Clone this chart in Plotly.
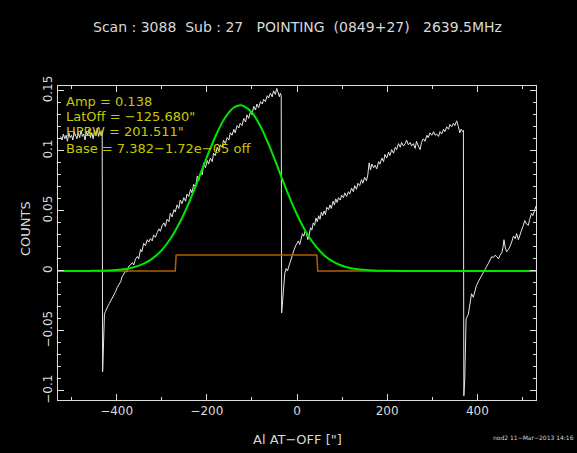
import numpy as np
import plotly.graph_objects as go

# ---------------- data ----------------
title_text = "Scan : 3088\u00a0\u00a0Sub : 27\u00a0\u00a0\u00a0POINTING\u00a0\u00a0(0849+27)\u00a0\u00a0\u00a02639.5MHz"
fit_labels = ["Amp = 0.138", "LatOff = \u2212125.680\"", "HPBW = 201.511\"", "Base = 7.382\u22121.72e\u221205 off"]
x_title = "Al AT\u2212OFF [\"]"
y_title = "COUNTS"
footer = "nod2 11\u2212Mar\u22122013 14:16"

x_tick_vals = [-400, -200, 0, 200, 400]
x_tick_text = ["\u2212400", "\u2212200", "0", "200", "400"]
y_tick_vals = [-0.1, -0.05, 0, 0.05, 0.1, 0.15]
y_tick_text = ["\u22120.1", "\u22120.05", "0", "0.05", "0.1", "0.15"]

scan_x = [-524, -521, -518, -515, -512, -509, -506, -503, -500, -497, -494, -491, -488, -485, -482, -479,
          -476, -473, -470, -467, -464, -461, -458, -455, -452, -449, -446, -443, -440, -437, -434, -432,
          -431, -429, -427, -425, -422, -419, -416, -413, -410, -406, -402, -399, -395, -391, -388, -384,
          -380, -377, -373, -369, -365, -362, -358, -354, -351, -347, -344, -340, -336, -332, -329, -325,
          -321, -318, -314, -310, -306, -303, -299, -295, -292, -288, -284, -281, -277, -273, -270, -266,
          -262, -259, -255, -251, -247, -244, -240, -236, -233, -229, -225, -221, -218, -214, -210, -207,
          -203, -199, -196, -192, -188, -185, -181, -177, -174, -170, -166, -163, -159, -155, -151, -148,
          -144, -140, -137, -133, -129, -126, -122, -118, -114, -111, -107, -103, -100, -96, -92, -89,
          -85, -81, -77, -74, -70, -66, -63, -59, -55, -52, -48, -45, -42, -39, -37, -35,
          -34, -31, -29, -27, -24, -21, -18, -15, -12, -9, -6, -3, 0, 3, 6, 9,
          12, 15, 18, 21, 24, 27, 30, 33, 36, 39, 42, 45, 48, 51, 54, 57,
          60, 63, 66, 70, 73, 76, 80, 83, 86, 89, 92, 96, 99, 103, 106, 110,
          114, 117, 121, 125, 128, 132, 135, 139, 143, 146, 150, 154, 157, 160, 163, 166,
          170, 173, 177, 181, 184, 188, 192, 195, 199, 203, 206, 210, 214, 218, 221, 225,
          229, 232, 236, 240, 243, 247, 251, 254, 258, 262, 265, 269, 273, 276, 280, 284,
          288, 291, 295, 299, 303, 306, 310, 314, 317, 321, 325, 328, 332, 336, 339, 343,
          347, 350, 354, 358, 361, 364, 367, 369, 370, 372, 375, 380, 384, 387, 391, 395,
          398, 402, 406, 410, 413, 417, 421, 424, 428, 432, 435, 439, 443, 447, 450, 454,
          457, 459, 462, 465, 469, 472, 476, 480, 484, 487, 491, 494, 498, 502, 505, 509,
          513, 516, 520, 523, 527, 530]
scan_y = [0.112, 0.109, 0.114, 0.110, 0.113, 0.108, 0.115, 0.111, 0.113, 0.109, 0.116, 0.112, 0.110, 0.115, 0.111, 0.117,
          0.112, 0.114, 0.109, 0.116, 0.113, 0.118, 0.111, 0.115, 0.110, 0.117, 0.113, 0.119, 0.112, 0.116, 0.114, 0.117,
          -0.084, -0.060, -0.036, -0.034, -0.031, -0.029, -0.027, -0.025, -0.023, -0.020, -0.017, -0.014, -0.012, -0.009, -0.005, -0.003,
          0.000, -0.001, 0.004, 0.005, 0.007, 0.005, 0.010, 0.012, 0.010, 0.018, 0.016, 0.023, 0.021, 0.026, 0.024, 0.027,
          0.025, 0.030, 0.028, 0.032, 0.035, 0.033, 0.038, 0.040, 0.037, 0.043, 0.041, 0.048, 0.045, 0.051, 0.049, 0.055,
          0.052, 0.059, 0.056, 0.061, 0.058, 0.064, 0.062, 0.068, 0.065, 0.072, 0.070, 0.079, 0.075, 0.082, 0.080, 0.090,
          0.086, 0.092, 0.089, 0.094, 0.091, 0.098, 0.096, 0.103, 0.100, 0.105, 0.103, 0.109, 0.106, 0.111, 0.109, 0.115,
          0.113, 0.118, 0.115, 0.121, 0.119, 0.123, 0.121, 0.127, 0.124, 0.130, 0.127, 0.133, 0.130, 0.137, 0.134, 0.139,
          0.136, 0.141, 0.139, 0.143, 0.141, 0.146, 0.144, 0.148, 0.145, 0.150, 0.147, 0.152, 0.149, 0.145, 0.148, 0.146,
          -0.035, -0.020, -0.005, -0.002, 0.002, 0.000, 0.004, 0.008, 0.011, 0.015, 0.018, 0.021, 0.023, 0.025, 0.022, 0.027,
          0.031, 0.029, 0.033, 0.031, 0.026, 0.030, 0.036, 0.034, 0.040, 0.038, 0.044, 0.041, 0.046, 0.043, 0.049, 0.046,
          0.050, 0.047, 0.053, 0.051, 0.055, 0.052, 0.058, 0.055, 0.060, 0.057, 0.061, 0.059, 0.063, 0.061, 0.065, 0.062,
          0.066, 0.064, 0.069, 0.066, 0.071, 0.068, 0.073, 0.071, 0.076, 0.073, 0.078, 0.075, 0.080, 0.090, 0.084, 0.089,
          0.086, 0.088, 0.085, 0.091, 0.089, 0.094, 0.091, 0.097, 0.094, 0.099, 0.096, 0.101, 0.098, 0.103, 0.101, 0.106,
          0.103, 0.107, 0.104, 0.106, 0.109, 0.105, 0.107, 0.104, 0.106, 0.102, 0.108, 0.104, 0.101, 0.107, 0.110, 0.108,
          0.113, 0.111, 0.115, 0.113, 0.116, 0.113, 0.114, 0.112, 0.116, 0.114, 0.118, 0.116, 0.120, 0.118, 0.122, 0.120,
          0.123, 0.121, 0.125, 0.120, 0.115, 0.118, 0.116, 0.117, -0.104, -0.090, -0.040, -0.036, -0.027, -0.019, -0.022, -0.016,
          -0.012, -0.009, -0.006, -0.003, -0.001, 0.001, 0.004, 0.006, 0.009, 0.012, 0.011, 0.013, 0.012, 0.010, 0.013, 0.015,
          0.020, 0.026, 0.019, 0.016, 0.018, 0.020, 0.024, 0.029, 0.027, 0.031, 0.026, 0.030, 0.034, 0.038, 0.042, 0.039,
          0.038, 0.043, 0.048, 0.046, 0.051, 0.054]

fit_x = [-530, -460, -440, -420, -400, -380, -360, -340, -320, -300, -280, -260, -240, -220, -200, -180,
         -160, -140, -126, -120, -100, -80, -60, -40, -20, 0, 20, 40, 60, 80, 100, 120,
         140, 160, 180, 200, 240, 530]
fit_y = [0.0, 0.00003, 0.00016, 0.00037, 0.00081, 0.00167, 0.00325, 0.00600, 0.01048, 0.01733, 0.02715, 0.04026,
         0.05654, 0.07518, 0.09466, 0.11281, 0.12733, 0.13608, 0.138, 0.13770, 0.13193, 0.11968, 0.10280, 0.08360,
         0.06438, 0.04694, 0.03240, 0.02118, 0.01311, 0.00768, 0.00426, 0.00224, 0.00111, 0.00052, 0.00022,
         0.00009, 0.00001, 0.0]

step_x = [-530, -270, -268, 44, 46, 530]
step_y = [0.0, 0.0, 0.0133, 0.0133, 0.0, 0.0]

# ---------------- figure ----------------
W, H = 577, 453
ml, mr, mt, mb = 58, 41, 86, 53
pw, ph = W - ml - mr, H - mt - mb

def px_x(p):
    return (p - ml) / pw

def px_y(p):
    return (H - mb - p) / ph

fig = go.Figure()
fig.add_trace(go.Scatter(x=scan_x, y=scan_y, mode="lines",
                         line=dict(color="#e6e6e6", width=1), hoverinfo="skip"))
fig.add_trace(go.Scatter(x=step_x, y=step_y, mode="lines",
                         line=dict(color="#b85c00", width=1.5), hoverinfo="skip"))
fig.add_trace(go.Scatter(x=fit_x, y=fit_y, mode="lines",
                         line=dict(color="#00e600", width=2, shape="spline", smoothing=0.8),
                         hoverinfo="skip"))

axis_col = "#dcdcdc"
fig.update_xaxes(range=[-530, 530], showgrid=False, zeroline=False,
                 showline=True, linecolor=axis_col, linewidth=1, mirror="allticks",
                 ticks="inside", ticklen=6, tickcolor=axis_col, tickwidth=1,
                 tickmode="array", tickvals=x_tick_vals, ticktext=x_tick_text,
                 tickfont=dict(family="DejaVu Sans", size=12, color=axis_col),
                 minor=dict(tickmode="array", tickvals=list(np.arange(-500, 501, 100)),
                            ticks="inside", ticklen=3, tickcolor=axis_col, showgrid=False))
fig.update_yaxes(range=[-0.1075, 0.154], showgrid=False, zeroline=False,
                 showline=True, linecolor=axis_col, linewidth=1, mirror="allticks",
                 ticks="inside", ticklen=6, tickcolor=axis_col, tickwidth=1,
                 tickmode="array", tickvals=y_tick_vals, ticktext=y_tick_text, tickangle=-90,
                 tickfont=dict(family="DejaVu Sans", size=12, color=axis_col),
                 minor=dict(tickmode="array", tickvals=list(np.round(np.arange(-0.10, 0.151, 0.01), 2)),
                            ticks="inside", ticklen=3, tickcolor=axis_col, showgrid=False))

ann = []
line_ys = [101.7, 116.7, 131.7, 148.0]
for txt, yy in zip(fit_labels, line_ys):
    ann.append(dict(text=txt, x=px_x(64), y=px_y(yy), xref="paper", yref="paper",
                    xanchor="left", yanchor="middle", showarrow=False,
                    font=dict(family="DejaVu Sans", size=13, color="#c8c800")))
ann.append(dict(text=title_text, x=0.5, y=px_y(27), xref="paper", yref="paper",
                xanchor="center", yanchor="middle", showarrow=False,
                font=dict(family="DejaVu Sans", size=14, color="#d8d8d8")))
ann.append(dict(text=x_title, x=0.5, y=px_y(439), xref="paper", yref="paper",
                xanchor="center", yanchor="middle", showarrow=False,
                font=dict(family="DejaVu Sans", size=13, color="#d8d8d8")))
ann.append(dict(text=y_title, x=px_x(25), y=px_y(229), xref="paper", yref="paper",
                xanchor="center", yanchor="middle", showarrow=False, textangle=-90,
                font=dict(family="DejaVu Sans", size=13, color="#d8d8d8")))
ann.append(dict(text=footer, x=px_x(491), y=px_y(437), xref="paper", yref="paper",
                xanchor="left", yanchor="middle", showarrow=False,
                font=dict(family="DejaVu Sans", size=6, color="#d8d8d8")))

fig.update_layout(width=W, height=H, margin=dict(l=ml, r=mr, t=mt, b=mb, pad=0),
                  paper_bgcolor="black", plot_bgcolor="black", showlegend=False,
                  annotations=ann)

fig.write_html("out.html")
